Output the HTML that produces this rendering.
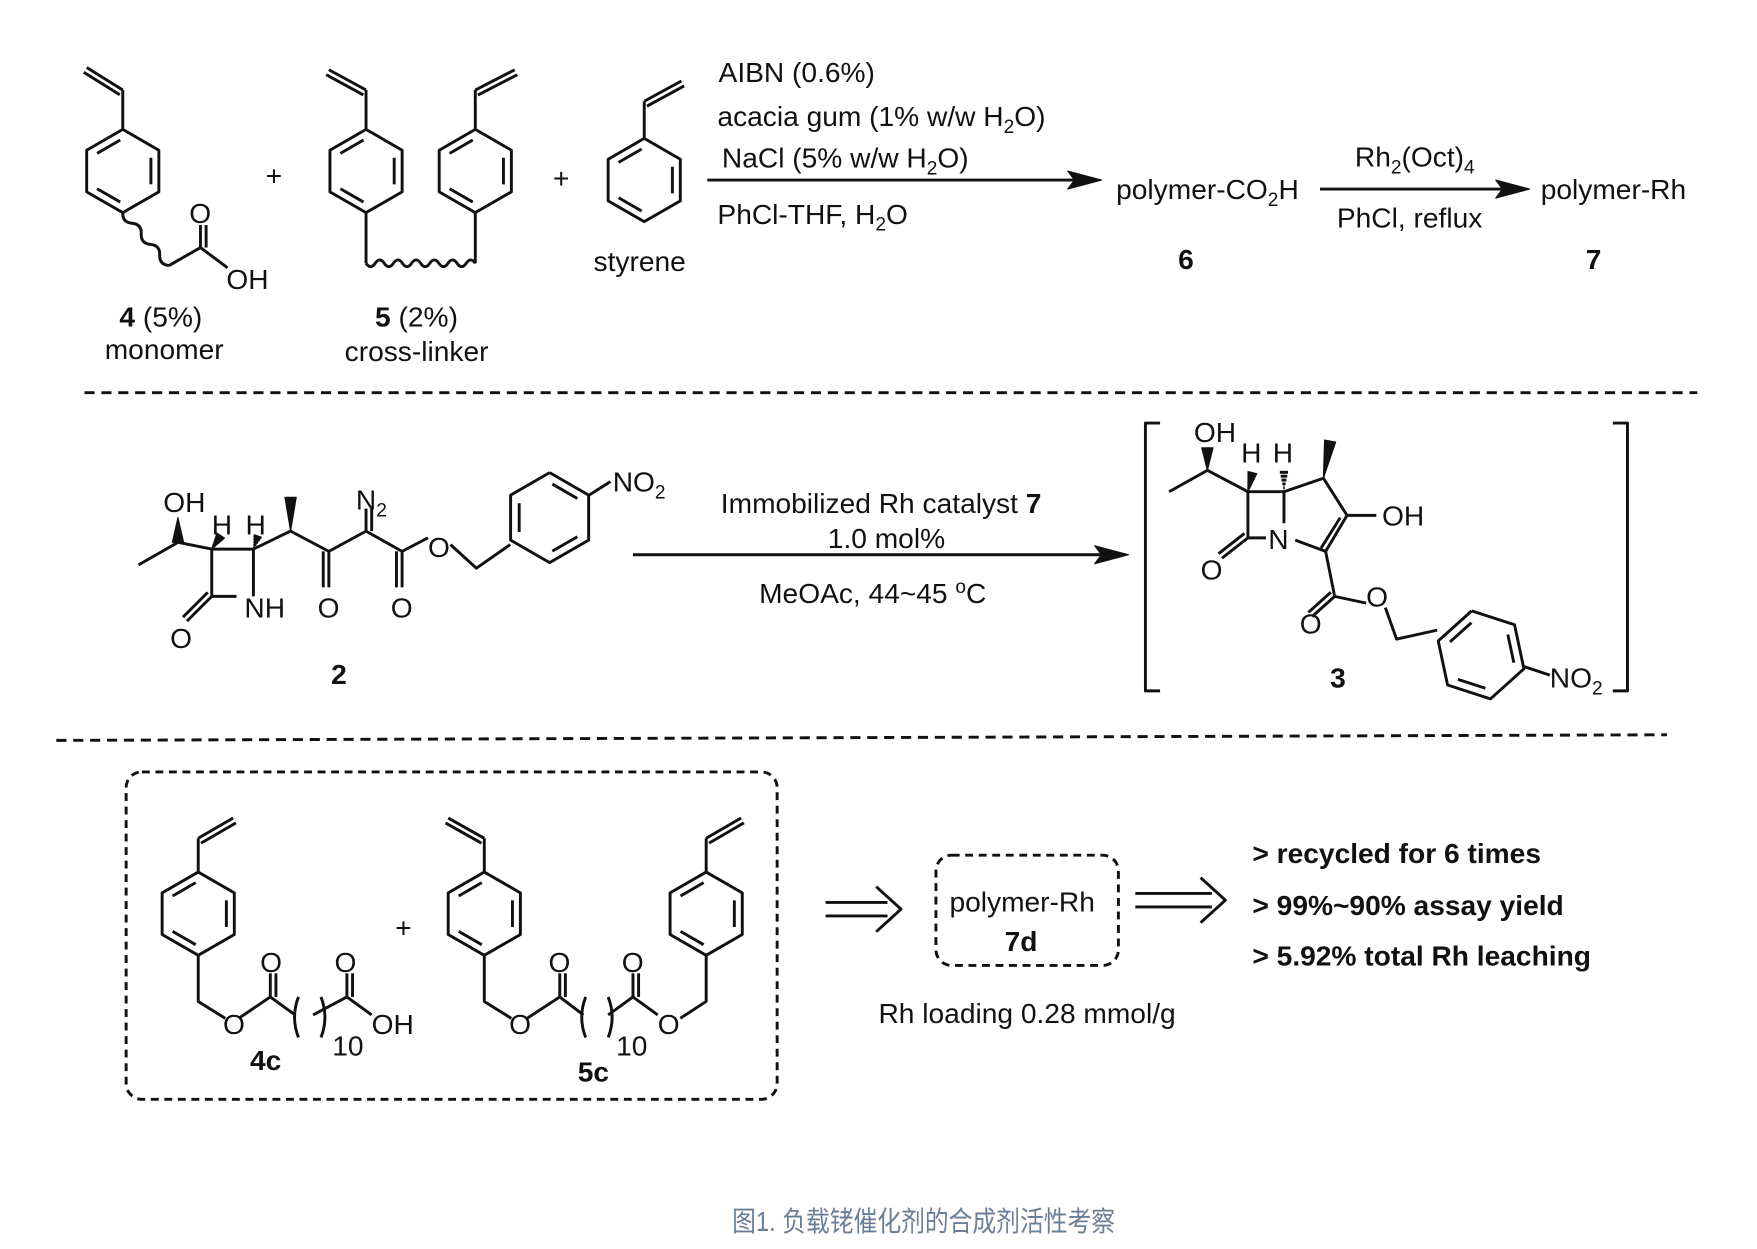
<!DOCTYPE html>
<html><head><meta charset="utf-8"><style>
html,body{margin:0;padding:0;background:#fff;width:1757px;height:1249px;overflow:hidden}
svg{display:block}
text{font-family:"Liberation Sans",Arial,sans-serif;font-size:25px;fill:#111}
.b{font-weight:bold}
</style></head><body>
<svg id="s" width="1757" height="1249" viewBox="0 0 1560 1110" preserveAspectRatio="none" xmlns="http://www.w3.org/2000/svg">
<g id="g" stroke="#111" stroke-width="2.6" fill="none" stroke-linejoin="round"></g>
<text x="236" y="165" font-size="20">+</text>
<text x="491" y="167" font-size="20">+</text>
<text x="201" y="257">OH</text>
<text x="168" y="198">O</text>
<text x="106" y="290"><tspan class="b">4</tspan> (5%)</text>
<text x="93" y="319">monomer</text>
<text x="333" y="290"><tspan class="b">5</tspan>  (2%)</text>
<text x="306" y="321">cross-linker</text>
<text x="527" y="241">styrene</text>
<text x="638" y="73">AIBN (0.6%)</text>
<text x="637" y="112">acacia gum (1% w/w H<tspan font-size="17" dy="6">2</tspan><tspan dy="-6">O)</tspan></text>
<text x="641" y="149">NaCl (5% w/w H<tspan font-size="17" dy="6">2</tspan><tspan dy="-6">O)</tspan></text>
<text x="637" y="199">PhCl-THF, H<tspan font-size="17" dy="6">2</tspan><tspan dy="-6">O</tspan></text>
<text x="991" y="177">polymer-CO<tspan font-size="17" dy="6">2</tspan><tspan dy="-6">H</tspan></text>
<text x="1046" y="239" class="b">6</text>
<text x="1203" y="148">Rh<tspan font-size="17" dy="6">2</tspan><tspan dy="-6">(Oct)</tspan><tspan font-size="17" dy="6">4</tspan></text>
<text x="1187" y="202">PhCl, reflux</text>
<text x="1368" y="177">polymer-Rh</text>
<text x="1408" y="239" class="b">7</text>
<text x="145" y="455">OH</text>
<text x="188" y="475">H</text>
<text x="218" y="475">H</text>
<text x="316" y="453">N<tspan font-size="17" dy="6">2</tspan></text>
<text x="544" y="437">NO<tspan font-size="17" dy="6">2</tspan></text>
<text x="217" y="549">NH</text>
<text x="151" y="576">O</text>
<text x="282" y="549">O</text>
<text x="347" y="549">O</text>
<text x="380" y="495">O</text>
<text x="294" y="608" class="b">2</text>
<text x="640" y="456">Immobilized Rh catalyst <tspan class="b">7</tspan></text>
<text x="735" y="487">1.0 mol%</text>
<text x="674" y="536">MeOAc, 44~45 <tspan font-size="17" dy="-9">o</tspan><tspan dy="9">C</tspan></text>
<text x="1060" y="393">OH</text>
<text x="1102" y="411">H</text>
<text x="1130" y="411">H</text>
<text x="1126" y="488">N</text>
<text x="1066" y="515">O</text>
<text x="1227" y="467">OH</text>
<text x="1154" y="563">O</text>
<text x="1213" y="539">O</text>
<text x="1181" y="611" class="b">3</text>
<text x="1376" y="611">NO<tspan font-size="17" dy="6">2</tspan></text>
<text x="351" y="833" font-size="20">+</text>
<text x="231" y="864">O</text>
<text x="297" y="864">O</text>
<text x="198" y="919">O</text>
<text x="330" y="919">OH</text>
<text x="295" y="938">10</text>
<text x="222" y="951" class="b">4c</text>
<text x="487" y="864">O</text>
<text x="552" y="864">O</text>
<text x="452" y="919">O</text>
<text x="584" y="919">O</text>
<text x="547" y="938">10</text>
<text x="513" y="961" class="b">5c</text>
<text x="843" y="810">polymer-Rh</text>
<text x="892" y="845" class="b">7d</text>
<text x="780" y="909">Rh loading 0.28 mmol/g</text>
<text x="1112" y="767" class="b">&gt; recycled for 6 times</text>
<text x="1112" y="813" class="b">&gt; 99%~90% assay yield</text>
<text x="1112" y="858" class="b">&gt; 5.92% total Rh leaching</text>
<text x="650" y="1094" font-size="18" textLength="340" lengthAdjust="spacingAndGlyphs" style="fill:#6a7f96;font-family:'Liberation Sans','Noto Sans CJK SC',sans-serif">图1. 负载铑催化剂的合成剂活性考察</text>
</svg>
<script>
var g=document.getElementById('g'),NS='http://www.w3.org/2000/svg';
function el(t,a){var e=document.createElementNS(NS,t);for(var k in a)e.setAttribute(k,a[k]);g.appendChild(e);return e;}
function L(p){el('polyline',{points:p});}
function P(d,extra){var a={d:d};for(var k in extra)a[k]=extra[k];el('path',a);}
function dbl(x1,y1,x2,y2,o){var dx=x2-x1,dy=y2-y1,l=Math.hypot(dx,dy),nx=-dy/l*o,ny=dx/l*o;L(x1+','+y1+' '+x2+','+y2);L((x1+nx)+','+(y1+ny)+' '+(x2+nx)+','+(y2+ny));}
function hex(cx,cy,r,rot,inner){var v=[];for(var i=0;i<6;i++){var a=(rot-90+60*i)*Math.PI/180;v.push([cx+r*Math.cos(a),cy+r*Math.sin(a)]);}
L(v.map(function(p){return p.join(',')}).join(' ')+' '+v[0].join(','));
inner.forEach(function(i){var a=v[i],b=v[(i+1)%6],s=0.78;var ax=cx+(a[0]-cx)*s,ay=cy+(a[1]-cy)*s,bx=cx+(b[0]-cx)*s,by=cy+(b[1]-cy)*s;var mx=(ax+bx)/2,my=(ay+by)/2;var k=0.82;L((mx+(ax-mx)*k)+','+(my+(ay-my)*k)+' '+(mx+(bx-mx)*k)+','+(my+(by-my)*k));});return v;}
function wavy(x1,y1,x2,y2,n){var dx=x2-x1,dy=y2-y1,l=Math.hypot(dx,dy),nx=-dy/l*3,ny=dx/l*3;var d='M'+x1+','+y1;for(var i=1;i<=n;i++){var t=(i-0.5)/n,s=i%2?1:-1;d+=' Q'+(x1+dx*t+nx*s*2)+','+(y1+dy*t+ny*s*2)+' '+(x1+dx*i/n)+','+(y1+dy*i/n);}P(d);}
function wedge(x1,y1,x2,y2,w){var dx=x2-x1,dy=y2-y1,l=Math.hypot(dx,dy),nx=-dy/l*w,ny=dx/l*w;el('polygon',{points:x1+','+y1+' '+(x2+nx)+','+(y2+ny)+' '+(x2-nx)+','+(y2-ny),fill:'#111','stroke-width':1});}
function hash(x1,y1,x2,y2,w){for(var i=1;i<=5;i++){var t=i/5.5,x=x1+(x2-x1)*t,y=y1+(y2-y1)*t,dx=x2-x1,dy=y2-y1,l=Math.hypot(dx,dy),ww=w*t;L((x-dy/l*ww)+','+(y+dx/l*ww)+' '+(x+dy/l*ww)+','+(y-dx/l*ww));}}
function arrow(x1,y,x2){L(x1+','+y+' '+(x2-10)+','+y);el('polygon',{points:x2+','+y+' '+(x2-30)+','+(y-8)+' '+(x2-24)+','+y+' '+(x2-30)+','+(y+8),fill:'#111','stroke-width':1});}
function darrow(x1,y,x2){L(x1+','+(y-6)+' '+(x2-12)+','+(y-6));L(x1+','+(y+6)+' '+(x2-12)+','+(y+6));L((x2-22)+','+(y-20)+' '+x2+','+y+' '+(x2-22)+','+(y+20));}
var r=37;
hex(109,152,r,0,[1,3,5]);L('109,115 109,80');dbl(109,80,77,60,-5);
wavy(109,189,150,236,5);L('150,236 178,220 202,238');dbl(178,220,178,200,5);
hex(325,152,r,0,[1,3,5]);L('325,115 325,80');dbl(325,80,292,62,-5);
hex(422,152,r,0,[1,3,5]);L('422,115 422,80');dbl(422,80,457,62,5);
L('325,189 325,234');L('422,189 422,234');wavy(325,234,422,234,12);
hex(572,160,r,0,[1,3,5]);L('572,123 572,90');dbl(572,90,605,72,5);
arrow(628,160,978);arrow(1172,168,1358);
el('line',{x1:75,y1:349,x2:1507,y2:349,'stroke-dasharray':'9,6'});
el('line',{x1:50,y1:658,x2:1480,y2:653,'stroke-dasharray':'9,6'});
L('123,502 158,482 188,488');
wedge(158,460,158,482,5);
L('188,488 225,488 225,530');L('188,488 188,530 210,530');dbl(188,530,166,552,5);
wedge(188,488,196,476,4);hash(225,488,229,476,4);
L('225,488 258,472 292,490 325,472 357,490 380,478');wedge(258,472,258,442,5);
dbl(292,490,292,522,5);dbl(325,472,325,452,5);dbl(357,490,357,522,5);
L('400,484 423,505 453,484');
hex(488,460,40,0,[0,2,4]);L('523,440 542,428');
arrow(562,493,1002);
L('1030,376 1017,376 1017,614 1030,614');L('1432,376 1445,376 1445,614 1432,614');
L('1038,437 1072,418 1108,437');wedge(1072,418,1072,398,5);
L('1108,437 1108,478 1124,478');L('1108,437 1140,437 1140,465');wedge(1108,437,1112,420,4);hash(1140,437,1140,418,4);
dbl(1108,478,1085,496,5);
L('1140,437 1175,425 1196,458 1222,458');wedge(1175,425,1181,392,5);
L('1196,458 1177,490 1150,480');L('1190,460 1173,487');
L('1177,490 1185,530 1213,536');dbl(1185,530,1165,548,5);
L('1230,540 1240,568 1276,560');
hex(1315,582,40,-12,[1,3,5]);L('1352,592 1376,600');
el('rect',{x:112,y:686,width:578,height:291,rx:14,'stroke-dasharray':'7,5'});
el('rect',{x:831,y:760,width:162,height:98,rx:14,'stroke-dasharray':'7,5'});
darrow(733,808,800);darrow(1008,800,1088);
hex(176,812,r,0,[1,3,5]);L('176,775 176,745');dbl(176,745,207,727,5);
L('176,849 176,890 200,905');L('212,905 240,886 262,902');dbl(240,886,240,865,5);
L('278,902 308,886 330,902');dbl(308,886,308,865,5);
P('M265,886 Q258,904 265,922');P('M285,886 Q292,904 285,922');
hex(430,812,r,0,[1,3,5]);L('430,775 430,745');dbl(430,745,398,727,-5);
hex(627,812,r,0,[1,3,5]);L('627,775 627,745');dbl(627,745,658,727,5);
L('430,849 430,890 454,905');L('468,905 497,886 518,902');dbl(497,886,497,865,5);
L('540,902 562,886 584,902');dbl(562,886,562,865,5);
L('604,905 627,890 627,849');
P('M520,886 Q513,904 520,922');P('M540,886 Q547,904 540,922');
</script>
</body></html>
